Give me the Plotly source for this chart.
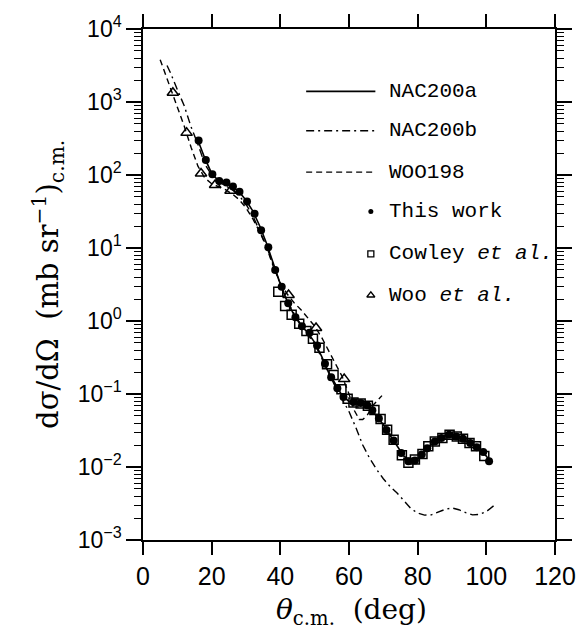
import plotly.graph_objects as go

# ---- measured data: 12C + 12C elastic scattering cross sections ----
theta_this = [16.2, 18.3, 20.2, 22.2, 24.3, 26.2, 28.1, 30.3, 32.5, 34.4, 36.5, 38.5,
              40.4, 42.3, 44.4, 46.3, 48.5, 50.7, 53.0, 54.8, 56.6, 58.4, 61.3, 63.4,
              65.3, 66.8, 68.7, 70.9, 73.0, 75.2, 77.3, 79.2, 81.2, 82.8, 85.0, 86.9,
              89.1, 91.2, 93.2, 95.3, 97.2, 99.1, 100.8]
sigma_this = [297, 160, 102, 83, 79, 69.5, 59, 43.5, 29.5, 17.5, 10.2, 5.0,
              2.95, 1.75, 1.13, 0.85, 0.69, 0.46, 0.26, 0.17, 0.12, 0.091, 0.078, 0.0755,
              0.070, 0.060, 0.046, 0.032, 0.023, 0.0156, 0.012, 0.0123, 0.0148, 0.018, 0.0224, 0.0249,
              0.0277, 0.0262, 0.0244, 0.0213, 0.0186, 0.0161, 0.012]

theta_cowley = [39.4, 41.4, 43.3, 45.5, 47.6, 49.5, 51.4, 53.6, 55.5, 57.8, 59.6, 61.3,
                63.4, 65.5, 67.4, 69.2, 71.1, 73.0, 75.4, 77.3, 79.2, 81.4, 83.1, 85.0,
                87.2, 89.3, 91.4, 93.2, 95.1, 97.0, 99.4]
sigma_cowley = [2.52, 1.61, 1.22, 0.92, 0.73, 0.57, 0.43, 0.256, 0.182, 0.116, 0.0863, 0.0762,
                0.074, 0.0689, 0.0603, 0.0455, 0.0323, 0.0237, 0.0145, 0.0114, 0.0127, 0.0151, 0.0192, 0.0224,
                0.0249, 0.0277, 0.0262, 0.0244, 0.0213, 0.0192, 0.0141]

theta_woo = [8.7, 12.7, 16.9, 21.0, 25.5, 42.4, 50.4, 58.6]
sigma_woo = [1340, 378, 105, 73, 61, 2.27, 0.80, 0.16]

# ---- model calculations ----
theta_nac_a = [16, 18, 20, 22, 24, 26, 28, 30, 32, 34, 36, 38, 40, 42, 44, 46, 48, 50,
               52, 54, 56, 58, 60, 62, 64, 66, 68, 70, 72, 74, 76, 78, 80, 82, 84, 86,
               88, 90, 92, 94, 96, 98, 100, 101]
sigma_nac_a = [300, 170, 105, 83, 78, 69, 59, 45, 32, 20, 11.5, 5.9, 3.2, 1.86, 1.2, 0.87, 0.69, 0.51,
               0.33, 0.20, 0.135, 0.095, 0.079, 0.076, 0.074, 0.066, 0.051, 0.038, 0.027, 0.0195, 0.0141, 0.012,
               0.0129, 0.0162, 0.0204, 0.024, 0.0269, 0.0275, 0.0257, 0.0229, 0.0204, 0.0174, 0.0141, 0.012]

theta_nac_b = [7, 8, 10, 12, 14, 16, 18, 20, 22, 24, 26, 28, 30, 32, 34, 36, 38, 40, 42, 44,
               46, 48, 50, 52, 54, 56, 58, 60, 62, 64, 66, 68, 70, 72, 74, 76, 78, 80, 82,
               84, 86, 88, 90, 92, 94, 96, 98, 100, 103]
sigma_nac_b = [3160, 2510, 1480, 890, 457, 263, 141, 100, 81, 72, 63, 52, 40, 27.5, 17.4, 10.5, 5.75, 3.16,
               1.9, 1.26, 0.89, 0.66, 0.48, 0.316, 0.2, 0.126, 0.085, 0.0575, 0.0347, 0.02, 0.0132, 0.0093,
               0.0069, 0.0054, 0.0044, 0.0035, 0.0027, 0.00234, 0.00219, 0.00221, 0.0024, 0.00263, 0.00275,
               0.0026, 0.00237, 0.00221, 0.00224, 0.00245, 0.00316]

theta_woo198 = [5, 6, 8, 10, 12, 14, 16, 18, 20, 22, 24, 26, 28, 30, 32, 34, 36, 38, 40, 42,
                44, 46, 48, 50, 52, 54, 56, 58, 60, 61.5, 63, 64, 65.3, 67.2, 69.6]
sigma_woo198 = [3800, 2820, 1580, 890, 468, 240, 132, 91, 76, 69, 63, 55, 46, 35.5, 25, 16.6, 10.2, 5.5,
                3.3, 2.34, 1.78, 1.43, 1.12, 0.85, 0.60, 0.40, 0.257, 0.174, 0.1, 0.060, 0.0447, 0.0447,
                0.051, 0.072, 0.095]

# axis ticks
x_ticks = [0, 20, 40, 60, 80, 100, 120]
y_exponents = [-3, -2, -1, 0, 1, 2, 3, 4]
y_tickvals = [10.0 ** e for e in y_exponents]
y_ticktext = ["10<sup>%s</sup>" % (str(e).replace("-", "−")) for e in y_exponents]

legend_labels = ["NAC200a", "NAC200b", "WOO198", "This work",
                 "Cowley <i>et al.</i>", "Woo <i>et al.</i>"]

SERIF = "DejaVu Serif, Liberation Serif, serif"
MONO = "Liberation Mono, DejaVu Sans Mono, monospace"
SANS = "Liberation Sans, Arial, sans-serif"

fig = go.Figure()

line_styles = [
    dict(color="black", width=1.6, dash="solid"),
    dict(color="black", width=1.4, dash="8px,4px,2px,4px"),
    dict(color="black", width=1.4, dash="6px,4px"),
]

fig.add_trace(go.Scatter(x=theta_nac_b, y=sigma_nac_b, mode="lines",
                         line=line_styles[1], showlegend=False))
fig.add_trace(go.Scatter(x=theta_woo198, y=sigma_woo198, mode="lines",
                         line=line_styles[2], showlegend=False))
fig.add_trace(go.Scatter(x=theta_nac_a, y=sigma_nac_a, mode="lines",
                         line=line_styles[0], showlegend=False))

fig.add_trace(go.Scatter(x=theta_woo, y=sigma_woo, mode="markers", showlegend=False,
                         marker=dict(symbol="triangle-up-open", size=10, color="black",
                                     line=dict(width=1.5, color="black"))))
fig.add_trace(go.Scatter(x=theta_cowley, y=sigma_cowley, mode="markers", showlegend=False,
                         marker=dict(symbol="square-open", size=9, color="black",
                                     line=dict(width=1.5, color="black"))))
fig.add_trace(go.Scatter(x=theta_this, y=sigma_this, mode="markers", showlegend=False,
                         marker=dict(symbol="circle", size=8, color="black")))

# invisible companion trace so the right-hand log axis (with its minor ticks) is drawn
fig.add_trace(go.Scatter(x=theta_this, y=sigma_this, mode="markers", yaxis="y3",
                         marker=dict(opacity=0), showlegend=False, hoverinfo="skip"))

# ---- hand-drawn key on an overlay axis spanning the plot area [0, 1] ----
row_y = [0.878, 0.801, 0.720, 0.643, 0.560, 0.479]
for i, style in enumerate(line_styles):
    fig.add_trace(go.Scatter(x=[0.396, 0.564], y=[row_y[i], row_y[i]], mode="lines",
                             line=style, xaxis="x2", yaxis="y2", showlegend=False,
                             hoverinfo="skip"))
key_markers = [
    dict(symbol="circle", size=5, color="black"),
    dict(symbol="square-open", size=6, color="black", line=dict(width=1.3, color="black")),
    dict(symbol="triangle-up-open", size=7, color="black", line=dict(width=1.3, color="black")),
]
for j, mk in enumerate(key_markers):
    fig.add_trace(go.Scatter(x=[0.553], y=[row_y[3 + j]], mode="markers", marker=mk,
                             xaxis="x2", yaxis="y2", showlegend=False, hoverinfo="skip"))

for i, lab in enumerate(legend_labels):
    fig.add_annotation(x=0.592, y=row_y[i], xref="paper", yref="paper", text=lab,
                       showarrow=False, xanchor="left", yanchor="middle",
                       font=dict(family=MONO, size=21, color="black"))

# axis titles
fig.add_annotation(x=-0.232, y=0.5, xref="paper", yref="paper", textangle=-90,
                   text="dσ/dΩ  (mb sr<sup>−1</sup>)<sub>c.m.</sub>", showarrow=False,
                   xanchor="center", yanchor="middle",
                   font=dict(family=SERIF, size=29, color="black"))
fig.add_annotation(x=0.505, y=-0.139, xref="paper", yref="paper",
                   text="<i>θ</i><sub>c.m.</sub>  (deg)", showarrow=False,
                   xanchor="center", yanchor="middle",
                   font=dict(family=SERIF, size=28, color="black"))

minor_ticks = dict(ticks="outside", ticklen=7, tickwidth=1, tickcolor="black",
                   dtick="D1", showgrid=False)

fig.update_layout(
    width=588, height=641,
    margin=dict(l=143, r=28, t=22, b=101),
    paper_bgcolor="white", plot_bgcolor="white",
    showlegend=False,
    xaxis=dict(range=[0, 120], tickmode="array", tickvals=x_ticks,
               ticktext=[str(v) for v in x_ticks], ticks="outside", ticklen=13,
               tickwidth=1.5, tickcolor="black", showline=True, linecolor="black",
               linewidth=1.5, mirror="allticks", showgrid=False, zeroline=False,
               tickfont=dict(family=SANS, size=25, color="black")),
    yaxis=dict(type="log", range=[-3, 4], tickmode="array", tickvals=y_tickvals,
               ticktext=y_ticktext,
               ticks="outside", ticklen=15, tickwidth=1.5, tickcolor="black",
               showline=True, linecolor="black", linewidth=1.5, mirror="allticks",
               showgrid=False, zeroline=False, minor=minor_ticks,
               tickfont=dict(family=SANS, size=23, color="black")),
    yaxis3=dict(type="log", range=[-3, 4], overlaying="y", side="right",
                tickmode="array", tickvals=y_tickvals, showticklabels=False,
                ticks="outside", ticklen=15, tickwidth=1.5, tickcolor="black",
                showline=True, linecolor="black", linewidth=1.5,
                showgrid=False, zeroline=False, minor=minor_ticks),
    xaxis2=dict(overlaying="x", range=[0, 1], visible=False, showticklabels=False),
    yaxis2=dict(overlaying="y", range=[0, 1], visible=False, showticklabels=False),
)

fig.write_html("out.html")
